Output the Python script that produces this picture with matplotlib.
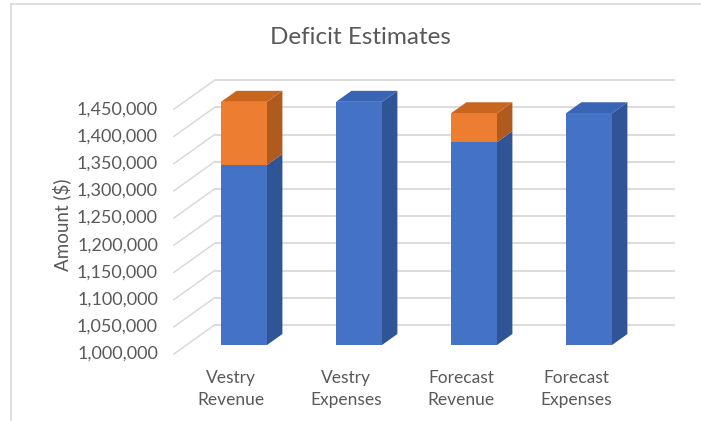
import numpy as np
import matplotlib
matplotlib.use("Agg")
import matplotlib.pyplot as plt
from matplotlib.patches import Polygon
from matplotlib.lines import Line2D

categories = ["Vestry\nRevenue", "Vestry\nExpenses", "Forecast\nRevenue", "Forecast\nExpenses"]
base_vals = [1331000, 1447000, 1373000, 1426000]   # blue series
deficit = [116000, 0, 53000, 0]                     # orange series
ticks = np.arange(1000000, 1450001, 50000)

plt.rcParams['font.family'] = ['Lato', 'DejaVu Sans']
txt = '#595959'
grid = '#D9D9D9'

W, H = 701, 421
fig = plt.figure(figsize=(W / 100, H / 100), dpi=100)
# axes = front plane of the bars
ax_l, ax_w = 186.5, 460
ax_b, ax_h = 76, 272
ax = fig.add_axes([ax_l / W, ax_b / H, ax_w / W, ax_h / H])
ax.set_xlim(-0.5, 3.5)
ax.set_ylim(1000000, 1500000)
ax.axis('off')

px_x = ax_w / 4.0
px_y = ax_h / 500000.0

def off(t):
    # oblique depth offset, t pixels "into" the chart
    return 1.4 * t / px_x, t / px_y

bx, by = off(20)    # back wall
fx, fy = off(-9)    # front edge

# gridlines on back wall + left wall
for v in ticks:
    ax.plot([-0.5 + bx, 3.5 + bx], [v + by, v + by], color=grid, lw=1.3,
            zorder=0, clip_on=False, solid_capstyle='butt')
    ax.plot([-0.5 + fx, -0.5 + bx], [v + fy, v + by], color=grid, lw=1.1,
            zorder=0, clip_on=False)
    ax.text(-0.5 + fx - 16 / px_x, v + fy, f"{v:,}", ha='right', va='center',
            fontsize=13, color=txt, clip_on=False)

x = np.arange(len(categories))
w = 0.4
dx, dy = off(11)

faces = {'#4472C4': ('#2F5597', '#3A64B4'), '#ED7D31': ('#B05A1E', '#C8661F')}

def draw_seg(xc, bottom, height, col, top):
    side, topc = faces[col]
    r = xc + w / 2
    l = xc - w / 2
    t = bottom + height
    ax.add_patch(Polygon([(r, bottom), (r, t), (r + dx, t + dy), (r + dx, bottom + dy)],
                         closed=True, fc=side, ec='none', zorder=2, clip_on=False))
    if top:
        ax.add_patch(Polygon([(l, t), (r, t), (r + dx, t + dy), (l + dx, t + dy)],
                             closed=True, fc=topc, ec='none', zorder=2, clip_on=False))

blue_h = [b - 1000000 for b in base_vals]
ax.bar(x, blue_h, w, bottom=1000000, color='#4472C4', zorder=3, clip_on=False)
ax.bar(x, deficit, w, bottom=base_vals, color='#ED7D31', zorder=3, clip_on=False)
for i in x:
    draw_seg(i, 1000000, blue_h[i], '#4472C4', deficit[i] == 0)
    if deficit[i] > 0:
        draw_seg(i, base_vals[i], deficit[i], '#ED7D31', True)

for i, c in enumerate(categories):
    ax.text(i + fx, 1000000 + fy - 35 / px_y, c, ha='center', va='center',
            fontsize=12.5, color=txt, linespacing=1.4, clip_on=False)

fig.text(360 / W, 1 - 37 / H, "Deficit Estimates", ha='center', va='center',
         fontsize=17.5, color=txt)
fig.text(62 / W, 1 - 225 / H, "Amount ($)", ha='center', va='center',
         rotation=90, fontsize=13.5, color=txt)

# chart frame
fig.add_artist(Line2D([11 / W, 11 / W], [0, 1 - 4 / H], color=grid, lw=1.2))
fig.add_artist(Line2D([11 / W, 1], [1 - 4 / H, 1 - 4 / H], color=grid, lw=1.2))

fig.savefig("out.png", dpi=100)
